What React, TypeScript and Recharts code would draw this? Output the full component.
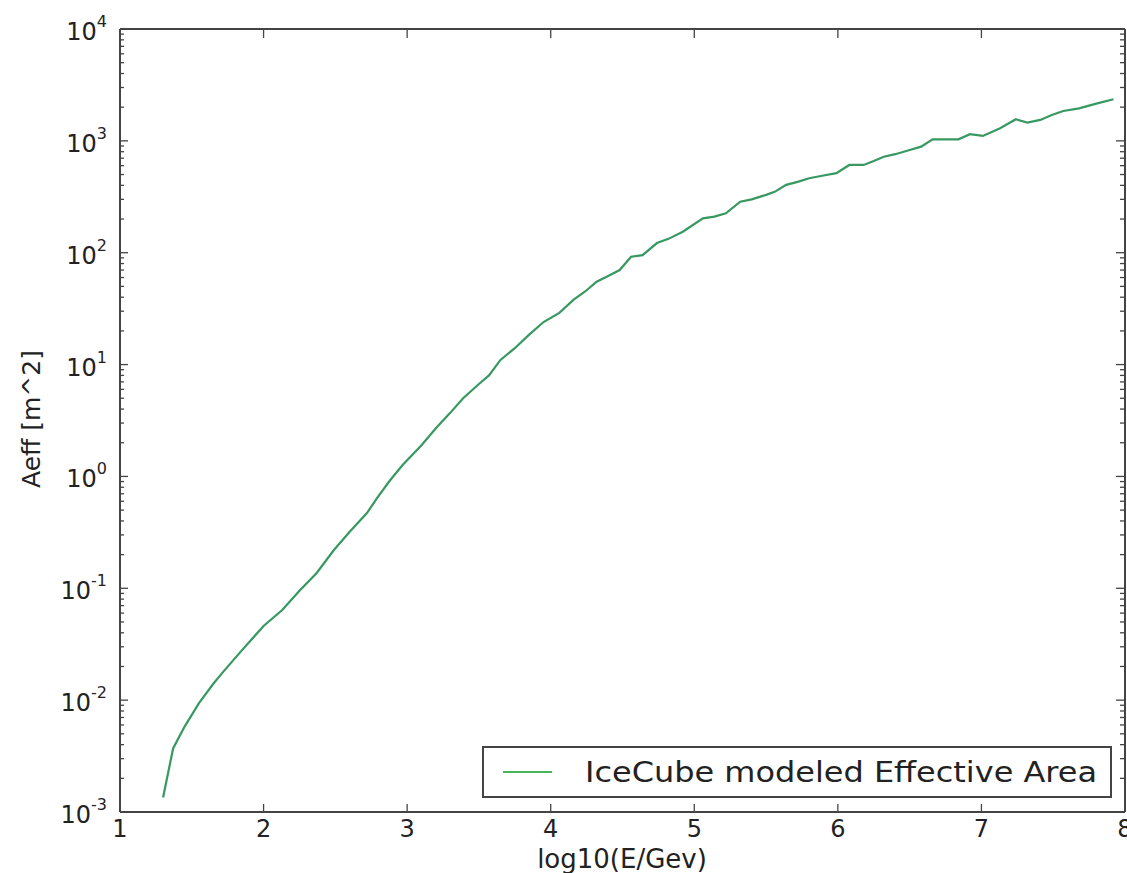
import React from 'react';
import { LineChart, Line, XAxis, YAxis, Legend } from 'recharts';

// log10(E/GeV) sample points and the effective area
const logE = [
  1.3, 1.37, 1.45, 1.55, 1.65, 1.72, 1.85, 2.0, 2.13, 2.25, 2.37, 2.49, 2.6, 2.72, 2.79, 2.88,
  2.97, 3.1, 3.2, 3.3, 3.39, 3.5, 3.57, 3.65, 3.75, 3.85, 3.95, 4.06, 4.16, 4.24, 4.32, 4.4,
  4.48, 4.56, 4.64, 4.74, 4.82, 4.92, 5.06, 5.14, 5.22, 5.32, 5.4, 5.5, 5.56, 5.64, 5.72, 5.8,
  5.9, 5.99, 6.08, 6.18, 6.25, 6.32, 6.4, 6.5, 6.58, 6.66, 6.78, 6.84, 6.92, 7.01, 7.13, 7.24,
  7.32, 7.41, 7.49, 7.57, 7.68, 7.8, 7.92,
];
const aeff = [
  0.00135, 0.0037, 0.0058, 0.0094, 0.014, 0.018, 0.028, 0.046, 0.064, 0.095, 0.137, 0.22, 0.32,
  0.47, 0.64, 0.92, 1.27, 1.9, 2.7, 3.7, 5.0, 6.7, 8.0, 11, 14, 18.5, 24, 29, 38, 45, 55, 62,
  70, 92, 95, 122, 133, 154, 203, 210, 225, 286, 300, 329, 350, 404, 430, 463, 490, 514, 609,
  609, 660, 722, 760, 829, 887, 1033, 1033, 1033, 1146, 1106, 1295, 1560, 1455, 1538, 1700,
  1850, 1954, 2150, 2355,
];

const xTicks = [1, 2, 3, 4, 5, 6, 7, 8];
const yMajor = [1e-3, 1e-2, 1e-1, 1, 10, 100, 1000, 10000];
const yMinorMult = [2, 3, 4, 5, 6, 7, 8, 9];

const data = logE.map((x, i) => ({ x, aeff: aeff[i] }));
const yTicks = [
  ...yMajor,
  ...yMajor.slice(0, -1).flatMap((d) => yMinorMult.map((m) => d * m)),
];

const axisColor = '#444';
const textColor = '#222';
const lineColor = '#379860';
const font = '"DejaVu Sans", sans-serif';

const isMajor = (v: number) => {
  const e = Math.log10(v);
  return Math.abs(e - Math.round(e)) < 1e-6;
};

const YTickLeft = (props: any) => {
  const { x, y, payload } = props;
  const major = isMajor(payload.value);
  const e = Math.round(Math.log10(payload.value));
  return (
    <g>
      <line x1={x} x2={x + (major ? 8 : 4)} y1={y} y2={y} stroke={axisColor} strokeWidth={1.3} />
      {major && (
        <text x={x - 13} y={y + 11} textAnchor="end" fill={textColor} fontSize={24} fontFamily={font}>
          10
          <tspan dy={-13} fontSize={16}>{e}</tspan>
        </text>
      )}
    </g>
  );
};

const YTickRight = (props: any) => {
  const { x, y, payload } = props;
  const major = isMajor(payload.value);
  return <line x1={x - 1} x2={x - 1 - (major ? 8 : 4)} y1={y} y2={y} stroke={axisColor} strokeWidth={1.3} />;
};

const XTickBottom = (props: any) => {
  const { x, y, payload } = props;
  return (
    <g>
      <line x1={x} x2={x} y1={y} y2={y - 8} stroke={axisColor} strokeWidth={1.3} />
      <text x={x} y={y + 25} textAnchor="middle" fill={textColor} fontSize={24} fontFamily={font}>
        {payload.value}
      </text>
    </g>
  );
};

const XTickTop = (props: any) => {
  const { x, y } = props;
  return <line x1={x} x2={x} y1={y + 1} y2={y + 9} stroke={axisColor} strokeWidth={1.3} />;
};

const LegendBox = () => (
  <svg width={630} height={52}>
    <rect x={1} y={1} width={628} height={50} fill="#fff" stroke={axisColor} strokeWidth={2} />
    <line x1={21} x2={70} y1={26} y2={26} stroke="#4cb45c" strokeWidth={2.2} />
    <text x={103} y={36} fill={textColor} fontSize={28} fontFamily={font} textLength={512} lengthAdjust="spacingAndGlyphs">
      IceCube modeled Effective Area
    </text>
  </svg>
);

export default function App() {
  return (
    <div style={{ position: 'absolute', left: 0, top: 0, background: '#fff' }}>
      <LineChart width={1127} height={873} data={data} margin={{ top: 28, right: 1, left: 0, bottom: 0 }}>
        <XAxis
          dataKey="x"
          type="number"
          domain={[1, 8]}
          ticks={xTicks}
          interval={0}
          height={61}
          tickSize={0}
          tickMargin={0}
          tickLine={false}
          axisLine={{ stroke: axisColor, strokeWidth: 2 }}
          tick={XTickBottom}
          label={{
            content: () => (
              <text x={622} y={868} textAnchor="middle" fill={textColor} fontSize={26} fontFamily={font}>
                log10(E/Gev)
              </text>
            ),
          }}
        />
        <XAxis
          xAxisId="top"
          orientation="top"
          dataKey="x"
          type="number"
          domain={[1, 8]}
          ticks={xTicks}
          interval={0}
          height={1}
          tickSize={0}
          tickMargin={0}
          tickLine={false}
          axisLine={{ stroke: axisColor, strokeWidth: 2 }}
          tick={XTickTop}
        />
        <YAxis
          type="number"
          scale="log"
          domain={[1e-3, 1e4]}
          allowDataOverflow
          ticks={yTicks}
          interval={0}
          width={120}
          tickSize={0}
          tickMargin={0}
          tickLine={false}
          axisLine={{ stroke: axisColor, strokeWidth: 2 }}
          tick={YTickLeft}
          label={{
            content: () => (
              <text
                x={31}
                y={419}
                transform="rotate(-90 31 419)"
                textAnchor="middle"
                dominantBaseline="central"
                fill={textColor}
                fontSize={25}
                fontFamily={font}
              >
                Aeff [m^2]
              </text>
            ),
          }}
        />
        <YAxis
          yAxisId="right"
          orientation="right"
          type="number"
          scale="log"
          domain={[1e-3, 1e4]}
          allowDataOverflow
          ticks={yTicks}
          interval={0}
          width={1}
          tickSize={0}
          tickMargin={0}
          tickLine={false}
          axisLine={{ stroke: axisColor, strokeWidth: 2 }}
          tick={YTickRight}
        />
        <Legend
          layout="horizontal"
          verticalAlign="middle"
          align="center"
          content={LegendBox}
          wrapperStyle={{ position: 'absolute', left: 482, top: 746, width: 630, height: 52 }}
        />
        <Line
          type="linear"
          dataKey="aeff"
          stroke={lineColor}
          strokeWidth={2.2}
          dot={false}
          isAnimationActive={false}
        />
      </LineChart>
    </div>
  );
}
